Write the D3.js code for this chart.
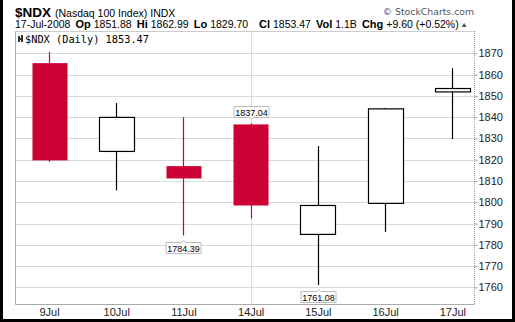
<!DOCTYPE html>
<html>
<head>
<meta charset="utf-8">
<script src="https://cdn.jsdelivr.net/npm/d3@7"></script>
<style>
  body { margin: 0; background: #fff; }
  svg { display: block; font-family: "Liberation Sans", Arial, sans-serif; }
</style>
</head>
<body>
<svg id="chart" width="515" height="322"></svg>
<script>
// 1: DATA
const days   = ["9Jul", "10Jul", "11Jul", "14Jul", "15Jul", "16Jul", "17Jul"];
const opens  = [1865.4, 1823.9, 1817.0, 1836.6, 1784.9, 1799.5, 1851.88];
const highs  = [1870.6, 1846.6, 1840.0, 1837.04, 1826.4, 1844.4, 1862.99];
const lows   = [1819.0, 1805.6, 1784.39, 1792.4, 1761.08, 1786.1, 1829.70];
const closes = [1819.7, 1839.9, 1811.2, 1798.5, 1798.5, 1843.9, 1853.47];
const yTicks = [1760, 1770, 1780, 1790, 1800, 1810, 1820, 1830, 1840, 1850, 1860, 1870];
const weekStarts = ["14Jul"];
const labelled = [
    { day: "14Jul", kind: "high" },
    { day: "11Jul", kind: "low" },
    { day: "15Jul", kind: "low" }
];

const candles = days.map((d, i) => ({
    day: d, open: opens[i], high: highs[i], low: lows[i], close: closes[i]
}));

// 2: LAYOUT
const plot = { left: 15, right: 474, top: 31, bottom: 304 };
const red = "#cc0033";
const svg = d3.select("#chart");

// 3: SCALES
const xScale = d3.scalePoint()
    .domain(days)
    .range([49, 452.3]);

const yScale = d3.scaleLinear()
    .domain([1752.2, 1880.5])
    .range([plot.bottom, plot.top]);

// outer frame
svg.append("path")
    .attr("d", "M1.5,0 V320.5 H513.5 V0")
    .attr("fill", "none")
    .attr("stroke", "#000")
    .attr("stroke-width", 3);

// 4: HEADER
const head = svg.append("text").attr("x", 15).attr("y", 16.5).attr("fill", "#000");
head.append("tspan").attr("font-weight", "bold").attr("font-size", 13.5).text("$NDX");
head.append("tspan").attr("font-size", 10.5).attr("dx", 4).text("(Nasdaq 100 Index)");
head.append("tspan").attr("font-size", 10.5).attr("dx", 3).text("INDX");

svg.append("text")
    .attr("x", 474).attr("y", 15)
    .attr("text-anchor", "end")
    .attr("font-family", "'DejaVu Sans', Verdana, sans-serif")
    .attr("font-size", 9.3)
    .attr("fill", "#555")
    .text("© StockCharts.com");

// quote line: [text, bold, fixed x or null]
const quote = [
    ["17-Jul-2008", false, 15], ["Op", true, null], ["1851.88", false, null],
    ["Hi", true, null], ["1862.99", false, null], ["Lo", true, null],
    ["1829.70", false, null], ["Cl", true, 259], ["1853.47", false, null],
    ["Vol", true, null], ["1.1B", false, null], ["Chg", true, null],
    ["+9.60 (+0.52%)", false, null]
];
let cursor = 15;
quote.forEach(([t, bold, fx]) => {
    const x = fx !== null ? fx : cursor + (bold ? 5 : 3);
    const el = svg.append("text")
        .attr("x", x)
        .attr("y", 28)
        .attr("font-size", bold ? 11 : 10.5)
        .attr("font-weight", bold ? "bold" : "normal")
        .attr("fill", "#000")
        .text(t);
    cursor = x + el.node().getComputedTextLength();
});

// up arrow
svg.append("path")
    .attr("d", `M${cursor + 3},27 L${cursor + 5.5},23 L${cursor + 8},27 Z`)
    .attr("fill", "#555");

// 5: PLOT FRAME AND GRID
svg.append("g")
    .selectAll("line")
    .data(yTicks)
    .enter()
    .append("line")
    .attr("x1", plot.left).attr("x2", plot.right)
    .attr("y1", d => Math.round(yScale(d)) + 0.5)
    .attr("y2", d => Math.round(yScale(d)) + 0.5)
    .attr("stroke", "#d9d9d9");

svg.append("g")
    .selectAll("line")
    .data(weekStarts)
    .enter()
    .append("line")
    .attr("x1", d => Math.round(xScale(d)) + 0.5)
    .attr("x2", d => Math.round(xScale(d)) + 0.5)
    .attr("y1", plot.top).attr("y2", plot.bottom)
    .attr("stroke", "#d9d9d9");

svg.append("path")
    .attr("d", `M${plot.left + 0.5},${plot.top + 0.5} V${plot.bottom + 0.5} H${plot.right + 0.5}`)
    .attr("fill", "none")
    .attr("stroke", "#aaa");
svg.append("line")
    .attr("x1", plot.left).attr("x2", plot.right)
    .attr("y1", plot.top + 0.5).attr("y2", plot.top + 0.5)
    .attr("stroke", "#ccc");
svg.append("line")
    .attr("x1", plot.right + 0.5).attr("x2", plot.right + 0.5)
    .attr("y1", plot.top).attr("y2", plot.bottom)
    .attr("stroke", "#999")
    .attr("stroke-dasharray", "1,1");

// legend row
svg.append("path")
    .attr("d", "M18,36 h2 v6 h-2 Z M21,35 h2 v7 h-2 Z M19,38 h3 v2 h-3 Z")
    .attr("fill", "#333");
svg.append("text")
    .attr("x", 25).attr("y", 43)
    .attr("font-family", "'DejaVu Sans Mono', monospace")
    .attr("font-size", 10.3)
    .attr("fill", "#000")
    .text("$NDX (Daily) 1853.47");

// 6: AXES
const yAxis = svg.append("g")
    .attr("transform", `translate(${plot.right + 0.5},0)`)
    .call(d3.axisRight(yScale).tickValues(yTicks).tickFormat(d3.format("d")).tickSize(3).tickPadding(1));
yAxis.select(".domain").remove();
yAxis.selectAll("line").attr("stroke", "#999");
yAxis.selectAll("text")
    .attr("font-family", "'Liberation Sans', Arial, sans-serif")
    .attr("font-size", 11)
    .attr("fill", "#222");

const xAxis = svg.append("g")
    .attr("transform", `translate(0,${plot.bottom})`)
    .call(d3.axisBottom(xScale).tickSize(0).tickPadding(4));
xAxis.select(".domain").remove();
xAxis.selectAll("text")
    .attr("font-family", "'Liberation Sans', Arial, sans-serif")
    .attr("font-size", 11)
    .attr("fill", "#222");

// 7: CANDLES
const bodyW = 35;
const g = svg.append("g");
const isDown = d => d.close < d.open;

g.selectAll(".wick")
    .data(candles)
    .enter()
    .append("line")
    .attr("class", "wick")
    .attr("x1", d => Math.round(xScale(d.day)) + 0.5)
    .attr("x2", d => Math.round(xScale(d.day)) + 0.5)
    .attr("y1", d => yScale(d.high))
    .attr("y2", d => yScale(d.low))
    .attr("stroke", d => isDown(d) ? red : "#000")
    .attr("stroke-width", 1.2);

g.selectAll(".body")
    .data(candles)
    .enter()
    .append("rect")
    .attr("class", "body")
    .attr("x", d => Math.round(xScale(d.day) - bodyW / 2) + 0.5)
    .attr("width", bodyW)
    .attr("y", d => yScale(Math.max(d.open, d.close)))
    .attr("height", d => Math.max(1, yScale(Math.min(d.open, d.close)) - yScale(Math.max(d.open, d.close))))
    .attr("fill", d => isDown(d) ? red : "#fff")
    .attr("stroke", d => isDown(d) ? red : "#000")
    .attr("stroke-width", d => isDown(d) ? 0 : 1.2);

// 8: VALUE LABELS
const boxW = 35, boxH = 11;
const lab = g.selectAll(".vlabel")
    .data(labelled.map(l => {
        const c = candles.find(c => c.day === l.day);
        return { day: l.day, kind: l.kind, value: l.kind === "high" ? c.high : c.low };
    }))
    .enter()
    .append("g")
    .attr("class", "vlabel")
    .attr("transform", d => {
        const cx = Math.round(xScale(d.day)) + 0.5;
        const top = d.kind === "high" ? yScale(d.value) - 6 - boxH : yScale(d.value) + 6;
        return `translate(${cx},${Math.round(top) + 0.5})`;
    });

lab.append("path")
    .attr("d", d => d.kind === "high"
        ? `M${-boxW / 2},0 H${boxW / 2} V${boxH} H2 L0,${boxH + 2} L-2,${boxH} H${-boxW / 2} Z`
        : `M${-boxW / 2},0 H-2 L0,-2 L2,0 H${boxW / 2} V${boxH} H${-boxW / 2} Z`)
    .attr("fill", "#fff")
    .attr("stroke", "#bbb");

lab.append("text")
    .attr("x", 0).attr("y", 9)
    .attr("text-anchor", "middle")
    .attr("font-size", 9)
    .attr("fill", "#000")
    .text(d => d.value.toFixed(2));
</script>
</body>
</html>
